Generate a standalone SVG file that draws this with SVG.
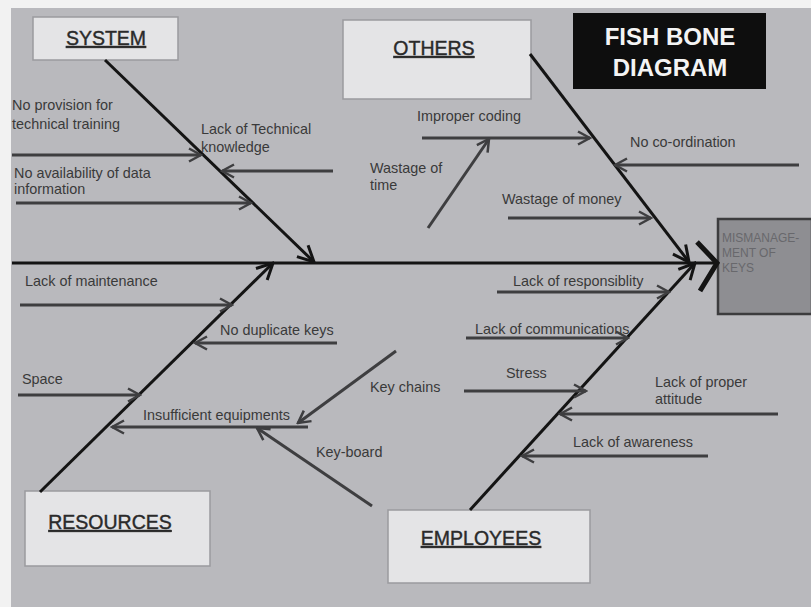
<svg xmlns="http://www.w3.org/2000/svg" width="811" height="607" viewBox="0 0 811 607">
<style>
.lbl{font-family:"Liberation Sans",Arial,sans-serif;font-size:14.4px;fill:#3a3a3a}
.box{fill:#e4e4e6;stroke:#9a9a9e;stroke-width:1.5}
.cat{font-family:"Liberation Sans",Arial,sans-serif;font-size:19.5px;fill:#2a2a2a;stroke:#2a2a2a;stroke-width:0.4;text-decoration:underline}
.bone{stroke:#141414;stroke-width:3;fill:none}
.br{stroke:#3e3e40;stroke-width:3;fill:none}
</style>
<defs>
<marker id="a" markerUnits="userSpaceOnUse" markerWidth="16" markerHeight="16" viewBox="0 0 16 16" refX="14" refY="8" orient="auto">
<path d="M2,1.5 L14,8 L2,14.5" fill="none" stroke="#3e3e40" stroke-width="2.5"/>
</marker>
<marker id="b" markerUnits="userSpaceOnUse" markerWidth="20" markerHeight="20" viewBox="0 0 20 20" refX="18" refY="10" orient="auto">
<path d="M2,2 L18,10 L2,18" fill="none" stroke="#141414" stroke-width="3"/>
</marker>
</defs>
<rect width="811" height="607" fill="#f2f2f2"/>
<rect x="11" y="8" width="800" height="599" fill="#b9b9bd"/>

<g id="node-system"><rect class="box" x="33" y="17" width="145" height="43"/><text class="cat" x="106" y="45" text-anchor="middle">SYSTEM</text></g>
<g id="node-others"><rect class="box" x="343" y="20" width="188" height="79"/><text class="cat" x="434" y="55" text-anchor="middle">OTHERS</text></g>
<g id="node-title"><rect x="573" y="13" width="193" height="76" fill="#0e0e0e"/><text x="670" y="45" text-anchor="middle" font-family="Liberation Sans,Arial,sans-serif" font-weight="bold" font-size="24" fill="#f4f4f4">FISH BONE</text><text x="670" y="76" text-anchor="middle" font-family="Liberation Sans,Arial,sans-serif" font-weight="bold" font-size="24" fill="#f4f4f4">DIAGRAM</text></g>
<g id="node-head"><rect x="718" y="219" width="94" height="95" fill="#8e8e92" stroke="#3c3c3e" stroke-width="2.5"/><text font-family="Liberation Sans,Arial,sans-serif" font-size="12" fill="#68686c"><tspan x="722" y="242">MISMANAGE-</tspan><tspan x="722" y="257">MENT OF</tspan><tspan x="722" y="272">KEYS</tspan></text></g>
<g id="node-resources"><rect class="box" x="25" y="491" width="185" height="75"/><text class="cat" x="110" y="529" text-anchor="middle">RESOURCES</text></g>
<g id="node-employees"><rect class="box" x="388" y="510" width="202" height="73"/><text class="cat" x="481" y="545" text-anchor="middle">EMPLOYEES</text></g>

<g id="connectors">
<line class="bone" x1="12" y1="263" x2="716" y2="263"/>
<path d="M697,242 L717,263 L700,291" fill="none" stroke="#141414" stroke-width="5"/>
<line class="bone" x1="105" y1="60" x2="314" y2="262" marker-end="url(#b)"/>
<line class="bone" x1="530" y1="54" x2="689" y2="262" marker-end="url(#b)"/>
<line class="bone" x1="40" y1="492" x2="273" y2="263" marker-end="url(#b)"/>
<line class="bone" x1="470" y1="510" x2="695" y2="263" marker-end="url(#b)"/>

<line class="br" x1="12" y1="155" x2="201" y2="155" marker-end="url(#a)"/>
<line class="br" x1="333" y1="171" x2="222" y2="171" marker-end="url(#a)"/>
<line class="br" x1="16" y1="203" x2="251" y2="203" marker-end="url(#a)"/>
<line class="br" x1="422" y1="138" x2="590" y2="138" marker-end="url(#a)"/>
<line class="br" x1="428" y1="228" x2="489" y2="139" marker-end="url(#a)"/>
<line class="br" x1="799" y1="165" x2="615" y2="165" marker-end="url(#a)"/>
<line class="br" x1="508" y1="218" x2="651" y2="218" marker-end="url(#a)"/>

<line class="br" x1="20" y1="305" x2="232" y2="305" marker-end="url(#a)"/>
<line class="br" x1="337" y1="343" x2="195" y2="343" marker-end="url(#a)"/>
<line class="br" x1="18" y1="395" x2="140" y2="395" marker-end="url(#a)"/>
<line class="br" x1="308" y1="427" x2="112" y2="427" marker-end="url(#a)"/>
<line class="br" x1="396" y1="351" x2="298" y2="423" marker-end="url(#a)"/>
<line class="br" x1="372" y1="506" x2="257" y2="428" marker-end="url(#a)"/>

<line class="br" x1="497" y1="292" x2="669" y2="292" marker-end="url(#a)"/>
<line class="br" x1="466" y1="338" x2="628" y2="338" marker-end="url(#a)"/>
<line class="br" x1="464" y1="391" x2="586" y2="391" marker-end="url(#a)"/>
<line class="br" x1="778" y1="414" x2="560" y2="414" marker-end="url(#a)"/>
<line class="br" x1="708" y1="456" x2="522" y2="456" marker-end="url(#a)"/>
</g>

<g id="labels">
<text class="lbl"><tspan x="12" y="110">No provision for</tspan><tspan x="12" y="129">technical training</tspan></text>
<text class="lbl"><tspan x="201" y="134">Lack of Technical</tspan><tspan x="201" y="152">knowledge</tspan></text>
<text class="lbl"><tspan x="14" y="178">No availability of data</tspan><tspan x="14" y="194">information</tspan></text>
<text class="lbl" x="417" y="121">Improper coding</text>
<text class="lbl"><tspan x="370" y="173">Wastage of</tspan><tspan x="370" y="190">time</tspan></text>
<text class="lbl" x="630" y="147">No co-ordination</text>
<text class="lbl" x="502" y="204">Wastage of money</text>
<text class="lbl" x="25" y="286">Lack of maintenance</text>
<text class="lbl" x="220" y="335">No duplicate keys</text>
<text class="lbl" x="22" y="384">Space</text>
<text class="lbl" x="143" y="420">Insufficient equipments</text>
<text class="lbl" x="370" y="392">Key chains</text>
<text class="lbl" x="316" y="457">Key-board</text>
<text class="lbl" x="513" y="286">Lack of responsiblity</text>
<text class="lbl" x="475" y="334">Lack of communications</text>
<text class="lbl" x="506" y="378">Stress</text>
<text class="lbl"><tspan x="655" y="387">Lack of proper</tspan><tspan x="655" y="404">attitude</tspan></text>
<text class="lbl" x="573" y="447">Lack of awareness</text>
</g>
</svg>
